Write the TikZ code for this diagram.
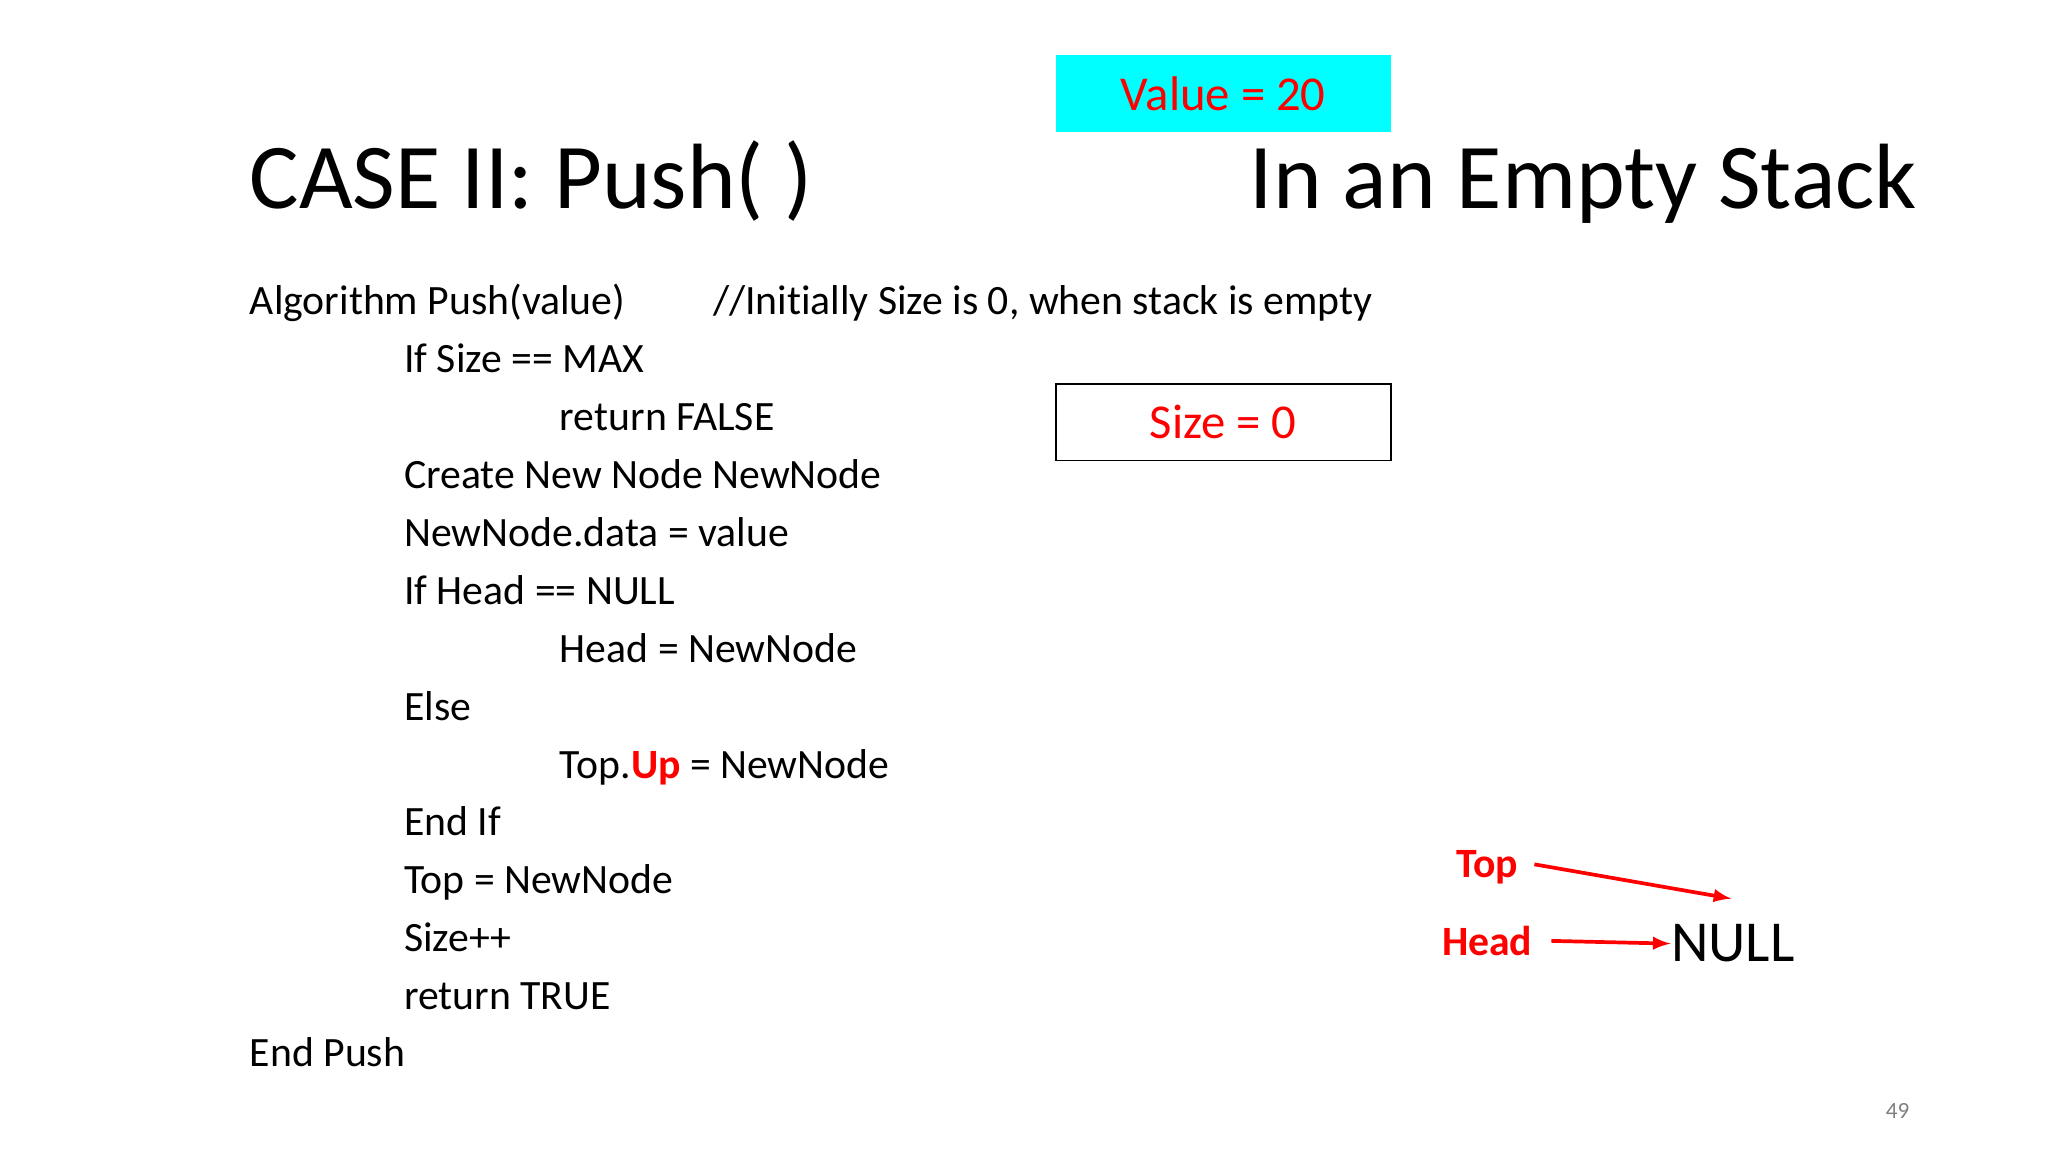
\documentclass[tikz,border=0pt]{standalone}
\usepackage{fontspec}
\setmainfont{Carlito}[Ligatures={NoCommon}]
\definecolor{brcyan}{RGB}{0,255,255}
\begin{document}
\begin{tikzpicture}[x=0.02cm,y=-0.02cm,
  code/.style={anchor=base west,inner sep=0pt,font=\fontsize{18}{20}\selectfont},
  title/.style={inner sep=0pt,font=\fontsize{40}{46}\selectfont},
  lbl/.style={inner sep=0pt,font=\fontsize{18}{22}\selectfont\bfseries,text=red},
  arr/.style={red,line width=1.6pt,-latex}]
\useasboundingbox (0,0) rectangle (1552,873);
\node[title,anchor=base west] (t1) at (189,158) {CASE II: Push( )};
\node[title,anchor=base east] (t2) at (1453,158) {In an Empty Stack};
\node[fill=brcyan,minimum width=254*0.02cm,minimum height=58*0.02cm,inner sep=0pt,text=red,font=\fontsize{21}{26}\selectfont] (val) at (927,71) {Value = 20};
\node[draw=black,line width=0.8pt,minimum width=254*0.02cm,minimum height=58*0.02cm,inner sep=0pt,text=red,font=\fontsize{21}{26}\selectfont] (size) at (927,320) {Size = 0};
\node[code] (l1) at (189,238) {Algorithm Push(value)};
\node[code] (c1) at (540,238) {//Initially Size is 0, when stack is empty};
\node[code] (l2) at (306,282) {If Size == MAX};
\node[code] (l3) at (424,326) {return FALSE};
\node[code] (l4) at (306,370) {Create New Node NewNode};
\node[code] (l5) at (306,414) {NewNode.data = value};
\node[code] (l6) at (306,458) {If Head == NULL};
\node[code] (l7) at (424,502) {Head = NewNode};
\node[code] (l8) at (306,546) {Else};
\node[code] (l9) at (424,590) {Top.\textcolor{red}{\textbf{Up}} = NewNode};
\node[code] (l10) at (306,633) {End If};
\node[code] (l11) at (306,677) {Top = NewNode};
\node[code] (l12) at (306,721) {Size++};
\node[code] (l13) at (306,765) {return TRUE};
\node[code] (l14) at (189,808) {End Push};
\node[lbl] (top) at (1127,657) {Top};
\node[lbl] (head) at (1127,713) {Head};
\node[inner sep=0pt,anchor=base west,font=\fontsize{25}{30}\selectfont] (null) at (1266,729) {NULL};
\coordinate (tp) at (1312,681);
\draw[arr] (top.east)++(12,-2) -- (tp);
\draw[arr] (head.east)++(14,0) -- (null.west);
\node[inner sep=0pt,text=gray,font=\fontsize{10}{12}\selectfont] (pg) at (1438,842) {49};
\end{tikzpicture}
\end{document}
